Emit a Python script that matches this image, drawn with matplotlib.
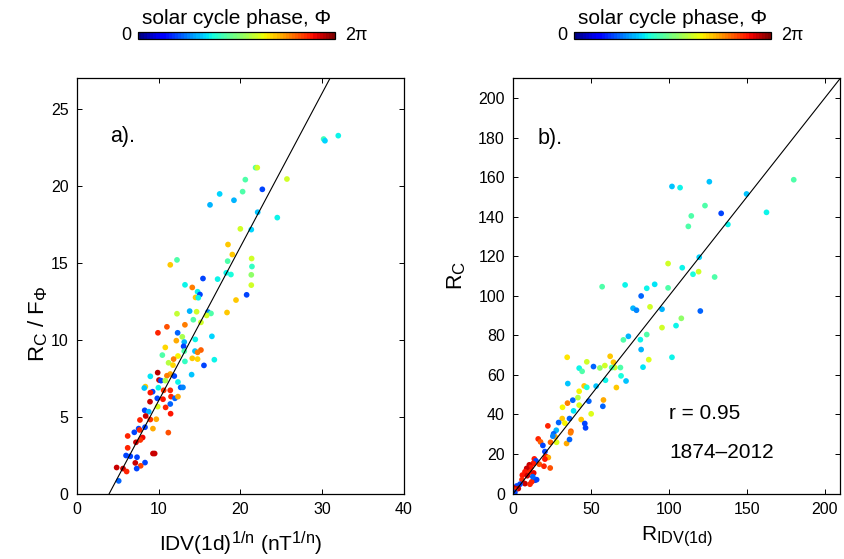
import numpy as np
import matplotlib
matplotlib.use("Agg")
import matplotlib.pyplot as plt
from matplotlib.colors import Normalize
from matplotlib.cm import ScalarMappable
try:
    import matplotlib._mathtext as _mt
    _mt.SHRINK_FACTOR = 0.78
except Exception:
    pass

plt.rcParams['font.family'] = ['Liberation Sans', 'DejaVu Sans']
plt.rcParams['mathtext.fontset'] = 'custom'
plt.rcParams['mathtext.rm'] = 'Liberation Sans'
plt.rcParams['mathtext.it'] = 'Liberation Sans:italic'
plt.rcParams['mathtext.bf'] = 'Liberation Sans:bold'

# ---------------- data: panel a (x, y, phase as fraction of 2*pi) ----------
a_x = [30.17, 30.33, 31.96, 21.85, 22.05, 20.59, 25.68, 22.67, 20.26, 17.45,
       19.20, 16.27, 22.10, 24.50, 19.98, 21.32, 18.47, 19.00, 18.43, 21.36,
       21.40, 11.41, 12.23, 21.32, 18.26, 18.83, 15.41, 17.20, 21.32, 13.21,
       14.10, 14.75, 15.04, 14.50, 14.84, 20.75, 19.45, 13.78, 14.63, 16.02,
       16.39, 15.86, 12.23, 18.35, 14.23, 15.16, 9.90, 11.00, 13.20, 12.31,
       12.88, 16.50, 14.47, 12.15, 13.12, 13.04, 10.80, 13.12, 14.43, 15.16,
       14.75, 10.44, 12.35, 11.82, 14.10, 14.75, 16.80, 13.20, 11.20, 11.74,
       15.53, 14.02, 9.87, 8.97, 11.41, 11.00, 11.90, 10.03, 10.27, 10.80,
       12.35, 8.36, 8.23, 9.95, 10.60, 11.41, 12.68, 12.96, 9.25, 8.97,
       8.93, 9.82, 11.50, 10.52, 11.98, 12.35, 11.41, 10.84, 9.87, 8.28,
       8.77, 11.45, 8.40, 7.70, 8.97, 9.70, 8.32, 7.54, 7.66, 9.29,
       7.01, 8.03, 7.74, 11.17, 6.20, 7.21, 6.20, 6.00, 6.52, 7.34,
       9.29, 9.50, 7.13, 8.32, 7.79, 7.30, 4.85, 5.63, 6.07, 5.10]
a_y = [23.05, 22.94, 23.27, 21.19, 21.19, 20.41, 20.45, 19.78, 19.63, 19.48,
       19.07, 18.77, 18.29, 17.94, 17.21, 17.16, 16.19, 15.54, 15.11, 15.28,
       14.76, 14.87, 15.19, 14.22, 14.35, 14.24, 13.98, 13.94, 13.55, 13.57,
       13.40, 13.12, 12.94, 12.75, 12.73, 12.92, 12.58, 11.86, 11.82, 11.80,
       11.71, 11.58, 11.69, 11.77, 11.30, 11.13, 10.45, 10.84, 10.97, 10.45,
       10.19, 10.22, 10.02, 9.94, 9.85, 9.57, 9.50, 9.26, 9.26, 9.33,
       9.18, 9.00, 8.94, 8.74, 8.79, 8.74, 8.70, 8.59, 8.50, 8.35,
       8.33, 7.73, 7.86, 7.62, 7.77, 7.66, 7.64, 7.38, 7.34, 7.34,
       7.25, 6.95, 6.86, 6.88, 6.71, 6.71, 6.90, 6.90, 6.62, 6.56,
       5.97, 6.19, 6.30, 6.13, 6.19, 6.30, 5.82, 5.60, 5.65, 5.41,
       5.32, 5.19, 5.04, 4.78, 4.81, 4.83, 4.31, 4.22, 4.13, 4.22,
       3.98, 3.64, 3.48, 3.96, 3.74, 3.33, 2.97, 2.47, 2.42, 2.36,
       2.60, 2.60, 1.99, 2.01, 1.80, 1.62, 1.69, 1.62, 1.43, 0.82]
a_phase = [0.43, 0.33, 0.37, 0.45, 0.60, 0.45, 0.60, 0.20, 0.45, 0.33,
           0.30, 0.30, 0.32, 0.37, 0.60, 0.33, 0.70, 0.70, 0.45, 0.60,
           0.42, 0.70, 0.45, 0.53, 0.37, 0.38, 0.20, 0.37, 0.60, 0.37,
           0.78, 0.37, 0.20, 0.70, 0.37, 0.20, 0.70, 0.30, 0.60, 0.25,
           0.45, 0.60, 0.58, 0.70, 0.45, 0.60, 0.87, 0.82, 0.78, 0.22,
           0.55, 0.33, 0.37, 0.72, 0.30, 0.20, 0.68, 0.45, 0.32, 0.80,
           0.78, 0.45, 0.65, 0.78, 0.70, 0.68, 0.37, 0.42, 0.57, 0.68,
           0.20, 0.32, 0.95, 0.35, 0.72, 0.78, 0.20, 0.93, 0.20, 0.55,
           0.37, 0.70, 0.32, 0.37, 0.85, 0.87, 0.22, 0.25, 0.20, 0.88,
           0.93, 0.20, 0.87, 0.88, 0.23, 0.72, 0.22, 0.87, 0.62, 0.20,
           0.30, 0.88, 0.93, 0.87, 0.85, 0.73, 0.20, 0.20, 0.87, 0.72,
           0.20, 0.90, 0.85, 0.82, 0.87, 0.93, 0.87, 0.20, 0.20, 0.20,
           0.93, 0.93, 0.93, 0.20, 0.83, 0.20, 0.93, 0.93, 0.87, 0.22]

# ---------------- data: panel b ----------------
b_x = [180.1, 101.9, 107.1, 125.9, 149.8, 123.1, 133.5, 162.6, 114.3, 112.4,
       137.8, 119.4, 99.4, 108.5, 115.4, 119.0, 129.3, 57.05, 71.8, 85.7,
       90.8, 99.4, 82.1, 76.9, 79.1, 87.8, 95.5, 120.1, 107.9, 104.5,
       95.5, 73.9, 70.7, 85.7, 81.6, 82.1, 101.9, 87.0, 83.3, 34.6,
       62.2, 47.2, 51.5, 42.3, 44.2, 55.6, 58.8, 64.3, 65.2, 63.2,
       68.8, 69.2, 72.4, 59.2, 35.0, 45.5, 47.2, 42.3, 53.2, 66.2,
       41.5, 42.3, 34.8, 38.2, 31.6, 48.5, 57.9, 57.5, 38.7, 36.1,
       31.4, 33.1, 29.1, 43.6, 45.9, 46.4, 50.0, 22.2, 27.6, 25.9,
       37.0, 36.8, 26.9, 25.4, 27.8, 34.2, 36.1, 16.0, 17.5, 19.0,
       23.9, 20.3, 20.96, 22.5, 20.3, 13.5, 14.55, 16.7, 23.7, 19.7,
       12.8, 10.3, 11.3, 8.6, 7.5, 5.8, 10.7, 13.1, 15.0, 13.9,
       11.8, 12.5, 9.0, 5.6, 7.5, 10.7, 4.3, 2.2, 3.2, 0.45,
       1.1, 1.0]
b_y = [158.7, 155.3, 154.7, 157.7, 151.5, 145.6, 141.7, 142.2, 140.4, 135.1,
       136.1, 119.5, 116.3, 114.2, 110.9, 112.2, 109.5, 104.6, 105.5, 103.8,
       105.8, 104.0, 99.9, 93.7, 92.7, 94.4, 93.2, 92.3, 88.6, 84.9,
       83.9, 79.5, 77.7, 80.4, 77.8, 72.8, 68.9, 67.7, 63.9, 68.9,
       69.4, 66.6, 64.2, 63.4, 61.8, 63.5, 64.7, 66.4, 63.7, 63.7,
       63.7, 59.5, 56.9, 57.3, 55.6, 54.4, 53.7, 51.7, 54.3, 53.6,
       48.5, 44.7, 45.7, 47.2, 43.6, 46.7, 47.3, 44.1, 41.8, 37.9,
       37.9, 35.6, 35.9, 37.4, 35.4, 33.2, 40.3, 34.2, 32.0, 30.2,
       31.5, 30.7, 28.6, 29.0, 25.9, 25.3, 27.3, 27.6, 26.1, 24.3,
       25.9, 21.2, 18.7, 18.2, 17.4, 17.5, 16.5, 14.8, 12.9, 13.8,
       15.2, 14.5, 13.2, 12.7, 11.0, 9.3, 10.8, 10.4, 7.0, 6.7,
       5.9, 8.5, 9.0, 7.0, 5.0, 4.7, 4.7, 3.8, 2.5, 2.8,
       1.7, 0.5]
b_phase = [0.45, 0.32, 0.36, 0.32, 0.32, 0.45, 0.20, 0.37, 0.45, 0.45,
           0.37, 0.33, 0.60, 0.37, 0.38, 0.60, 0.45, 0.45, 0.37, 0.37,
           0.35, 0.45, 0.22, 0.30, 0.25, 0.60, 0.30, 0.22, 0.53, 0.36,
           0.60, 0.30, 0.45, 0.45, 0.37, 0.30, 0.37, 0.62, 0.35, 0.67,
           0.70, 0.60, 0.22, 0.37, 0.45, 0.52, 0.60, 0.70, 0.60, 0.45,
           0.45, 0.38, 0.32, 0.37, 0.32, 0.70, 0.38, 0.65, 0.32, 0.70,
           0.57, 0.62, 0.78, 0.22, 0.65, 0.22, 0.72, 0.22, 0.35, 0.22,
           0.70, 0.65, 0.22, 0.70, 0.20, 0.20, 0.62, 0.87, 0.30, 0.22,
           0.80, 0.78, 0.72, 0.25, 0.62, 0.72, 0.22, 0.87, 0.80, 0.20,
           0.80, 0.20, 0.87, 0.72, 0.88, 0.88, 0.20, 0.82, 0.82, 0.87,
           0.88, 0.93, 0.88, 0.93, 0.88, 0.88, 0.87, 0.90, 0.20, 0.20,
           0.87, 0.22, 0.93, 0.87, 0.93, 0.87, 0.20, 0.20, 0.93, 0.93,
           0.87, 0.20]

# fit lines
fit_a_slope, fit_a_intercept = 1.0, -3.95
fit_b_slope, fit_b_intercept = 1.0, 0.0

xticks_a = [0, 10, 20, 30, 40]
yticks_a = [0, 5, 10, 15, 20, 25]
xticks_b = [0, 50, 100, 150, 200]
yticks_b = [0, 20, 40, 60, 80, 100, 120, 140, 160, 180, 200]

cmap = plt.get_cmap('jet', 64)
norm = Normalize(0, 1)

W, H = 845, 559
fig = plt.figure(figsize=(W / 100, H / 100), dpi=100)

def fx(px):
    return px / W

def fy(py):
    return 1 - py / H

ax_a = fig.add_axes([fx(77), fy(493.5), (404 - 77) / W, (493.5 - 78.3) / H])
ax_b = fig.add_axes([fx(513.3), fy(493.5), (840.3 - 513.3) / W, (493.5 - 78.3) / H])

def style(ax):
    ax.tick_params(direction='in', top=True, right=True, length=3.5, width=0.7,
                   labelsize=11.5, pad=6)
    for s in ax.spines.values():
        s.set_linewidth(0.9)

# panel a
ax_a.scatter(a_x, a_y, c=a_phase, cmap=cmap, norm=norm, s=17, linewidths=0, zorder=2)
xl = np.array([0, 40])
ax_a.plot(xl, fit_a_slope * xl + fit_a_intercept, color='black', lw=0.8, zorder=3)
ax_a.set_xlim(0, 40)
ax_a.set_ylim(0, 27)
ax_a.set_xticks(xticks_a)
ax_a.set_yticks(yticks_a)
style(ax_a)
ax_a.set_xlabel(r'IDV(1d)$^{\mathregular{1/n}}$ (nT$^{\mathregular{1/n}}$)', fontsize=15, labelpad=9)
ax_a.set_ylabel(r'R$_{\mathregular{C}}$ / F$_{\mathregular{Φ}}$', fontsize=16)
ax_a.yaxis.set_label_coords(-0.082, 0.41)
ax_a.text(4.0, 23.2, 'a).', fontsize=15.5, ha='left', va='center')

# panel b
ax_b.scatter(b_x, b_y, c=b_phase, cmap=cmap, norm=norm, s=17, linewidths=0, zorder=2)
xl = np.array([0, 210])
ax_b.plot(xl, fit_b_slope * xl + fit_b_intercept, color='black', lw=0.8, zorder=3)
ax_b.set_xlim(0, 210)
ax_b.set_ylim(0, 210)
ax_b.set_xticks(xticks_b)
ax_b.set_yticks(yticks_b)
style(ax_b)
ax_b.set_xlabel(r'R$_{\mathregular{IDV(1d)}}$', fontsize=15, labelpad=6)
ax_b.set_ylabel(r'R$_{\mathregular{C}}$', fontsize=15.5)
ax_b.yaxis.set_label_coords(-0.138, 0.525)
ax_b.text(15.5, 179.5, 'b).', fontsize=15.5, ha='left', va='center')
ax_b.text(100, 40.5, 'r = 0.95', fontsize=15, ha='left', va='center')
ax_b.text(100, 20.5, '1874\u20132012', fontsize=15, ha='left', va='center')

# colorbars
for left in (138, 574):
    cax = fig.add_axes([fx(left), fy(39.3), 197 / W, 7.6 / H])
    cb = fig.colorbar(ScalarMappable(norm=norm, cmap=cmap), cax=cax, orientation='horizontal')
    cb.set_ticks([])
    cb.outline.set_linewidth(0.9)
    cax.annotate('solar cycle phase, Φ', xy=(0.5, 1), xycoords='axes fraction',
                 xytext=(0, 5.5), textcoords='offset points', ha='center', va='baseline',
                 fontsize=15)
    cax.annotate('0', xy=(0, 0.5), xycoords='axes fraction', xytext=(-4.5, 0),
                 textcoords='offset points', ha='right', va='center', fontsize=13)
    cax.annotate('2π', xy=(1, 0.5), xycoords='axes fraction', xytext=(7.5, 0),
                 textcoords='offset points', ha='left', va='center', fontsize=13)

fig.savefig('out.png', dpi=100)
